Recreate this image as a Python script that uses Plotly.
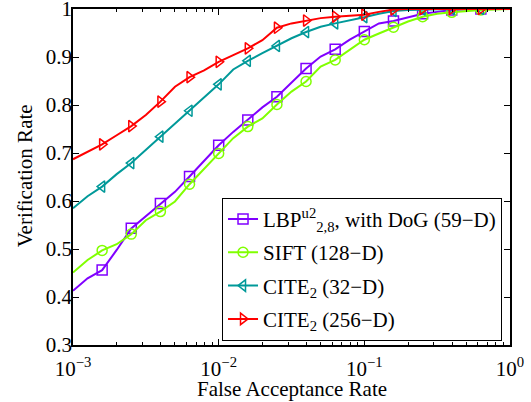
import plotly.graph_objects as go

# log10 of False Acceptance Rate sample points
far_exp = [-3.0, -2.9, -2.8, -2.7, -2.6, -2.5, -2.4, -2.3, -2.2, -2.1, -2.0,
           -1.9, -1.8, -1.7, -1.6, -1.5, -1.4, -1.3, -1.2, -1.1, -1.0,
           -0.9, -0.8, -0.7, -0.6, -0.5, -0.4, -0.3, -0.2, -0.1, 0.0]

lbp = [0.413, 0.439, 0.456, 0.498, 0.543, 0.569, 0.595, 0.619, 0.651, 0.683, 0.716,
       0.744, 0.769, 0.795, 0.817, 0.847, 0.876, 0.901, 0.916, 0.936, 0.953,
       0.970, 0.975, 0.982, 0.990, 0.994, 0.998, 0.999, 1.000, 1.000, 1.000]

sift = [0.451, 0.477, 0.497, 0.510, 0.531, 0.560, 0.578, 0.599, 0.635, 0.667, 0.699,
        0.731, 0.755, 0.772, 0.801, 0.828, 0.849, 0.880, 0.894, 0.915, 0.936,
        0.949, 0.962, 0.974, 0.984, 0.990, 0.993, 0.996, 0.998, 0.999, 1.000]

cite32 = [0.585, 0.610, 0.630, 0.656, 0.679, 0.706, 0.734, 0.760, 0.788, 0.815, 0.843,
          0.874, 0.892, 0.908, 0.923, 0.939, 0.952, 0.963, 0.970, 0.976, 0.983,
          0.990, 0.996, 0.998, 0.999, 1.000, 1.000, 1.000, 1.000, 1.000, 1.000]

cite256 = [0.687, 0.703, 0.718, 0.737, 0.756, 0.779, 0.807, 0.838, 0.858, 0.872, 0.890,
           0.904, 0.918, 0.935, 0.961, 0.970, 0.976, 0.981, 0.984, 0.986, 0.988,
           0.994, 0.999, 1.000, 1.000, 1.000, 1.000, 1.000, 1.000, 1.000, 1.000]

names = ["LBP<sup>u2</sup><sub>2,8</sub>, with DoG (59−D)",
         "SIFT (128−D)",
         "CITE<sub>2</sub> (32−D)",
         "CITE<sub>2</sub> (256−D)"]
colors = ["#8000ff", "#80ff00", "#009999", "#ff0000"]
symbols = ["square-open", "circle-open", "triangle-left-open", "triangle-right-open"]
series = [lbp, sift, cite32, cite256]

x_tick_vals = [1e-3, 1e-2, 1e-1, 1e0]
x_tick_text = ["10<sup>−3</sup>", "10<sup>−2</sup>", "10<sup>−1</sup>", "10<sup>0</sup>"]
y_tick_vals = [0.3, 0.4, 0.5, 0.6, 0.7, 0.8, 0.9, 1.0]
y_tick_text = ["0.3", "0.4", "0.5", "0.6", "0.7", "0.8", "0.9", "1"]

far = [10 ** e for e in far_exp]
mark_idx = list(range(2, 29, 2))

fig = go.Figure()
for k, (name, col, sym, vals) in enumerate(zip(names, colors, symbols, series)):
    fig.add_trace(go.Scatter(x=far, y=vals, mode="lines",
                             line=dict(color=col, width=2), showlegend=False,
                             hoverinfo="skip"))
    fig.add_trace(go.Scatter(x=[far[i] for i in mark_idx], y=[vals[i] for i in mark_idx],
                             mode="markers", showlegend=False,
                             marker=dict(symbol=sym, size=10, color=col,
                                         line=dict(color=col, width=1.5))))
    fig.add_trace(go.Scatter(x=[None], y=[None], mode="lines+markers", name=name,
                             legendgroup=f"g{k}",
                             line=dict(color=col, width=2),
                             marker=dict(symbol=sym, size=10, color=col,
                                         line=dict(color=col, width=1.5))))

minor_vals = [m * 10 ** d for d in (-3, -2, -1) for m in range(2, 10)]

fig.update_layout(
    template="none",
    width=531, height=402,
    margin=dict(l=73, r=21, t=9, b=57, autoexpand=False),
    paper_bgcolor="white", plot_bgcolor="white",
    font=dict(family="Liberation Serif", size=21, color="black"),
    showlegend=True,
    legend=dict(x=0.341, y=0.438, xanchor="left", yanchor="top",
                bgcolor="white", bordercolor="black", borderwidth=1,
                font=dict(size=21), tracegroupgap=3, itemwidth=30),
    xaxis=dict(type="log", range=[-3, 0], tickmode="array", tickvals=x_tick_vals,
               ticktext=x_tick_text, ticks="inside", ticklen=6, tickwidth=1,
               tickcolor="black", automargin=False, ticklabelstandoff=4,
               showline=True, linecolor="black", linewidth=1.5, mirror="ticks",
               showgrid=False, zeroline=False, ticklabeloverflow="allow",
               minor=dict(tickmode="array", tickvals=minor_vals, ticks="inside",
                          ticklen=3, tickwidth=1, tickcolor="black", showgrid=False)),
    yaxis=dict(range=[0.3, 1.0], tickmode="array", tickvals=y_tick_vals,
               ticktext=y_tick_text, ticks="inside", ticklen=6, tickwidth=1,
               tickcolor="black", automargin=False, ticklabelstandoff=-5,
               showline=True, linecolor="black", linewidth=1.5, mirror="ticks",
               showgrid=False, zeroline=False, ticklabeloverflow="allow"),
    annotations=[
        dict(text="False Acceptance Rate", xref="paper", yref="paper",
             x=0.5, y=-0.131, xanchor="center", yanchor="middle",
             showarrow=False, font=dict(size=21)),
        dict(text="Verification Rate", xref="paper", yref="paper",
             x=-0.11, y=0.505, xanchor="center", yanchor="middle", textangle=-90,
             showarrow=False, font=dict(size=21)),
    ],
)

fig.write_html("out.html", config={"displayModeBar": False},
               post_script="document.body.style.margin='0px';document.body.style.overflow='hidden';")
